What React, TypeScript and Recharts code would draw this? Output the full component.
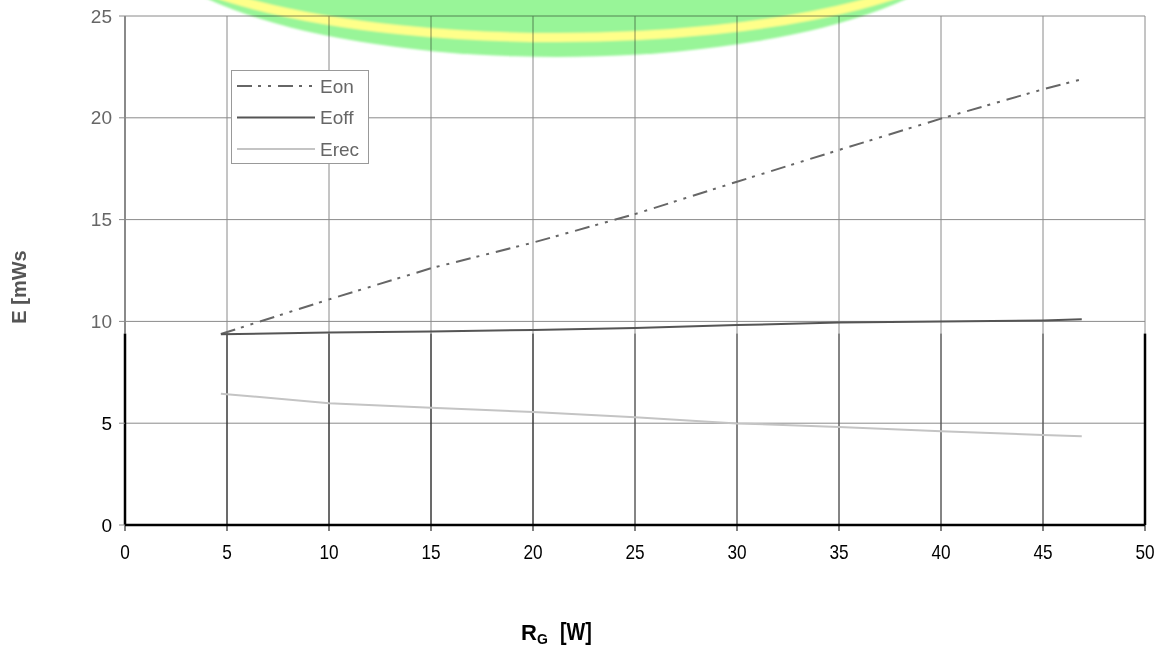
import React from 'react';
import { LineChart, Line, XAxis, YAxis, CartesianGrid, Legend, ReferenceLine, Label } from 'recharts';

// ---- data ----
const rgValues = [4.7, 10, 15, 20, 25, 30, 35, 40, 45, 46.9];
const eonValues = [9.38, 11.08, 12.61, 13.87, 15.27, 16.86, 18.42, 19.96, 21.4, 21.89];
const eoffValues = [9.37, 9.46, 9.51, 9.58, 9.68, 9.82, 9.94, 10.0, 10.05, 10.1];
const erecValues = [6.45, 5.98, 5.76, 5.55, 5.29, 4.99, 4.81, 4.6, 4.42, 4.36];

const xTicks = [0, 5, 10, 15, 20, 25, 30, 35, 40, 45, 50];
const yTicks = [0, 5, 10, 15, 20, 25];
const seriesNames = ['Eon', 'Eoff', 'Erec'];
const underlayTop = 9.4;
const yMax = 25;

const seriesStyle: Record<string, { color: string; dash?: string }> = {
  Eon: { color: '#666666', dash: '15 6 3 7 3 7' },
  Eoff: { color: '#555555' },
  Erec: { color: '#c4c4c4' },
};

const data = rgValues.map((rg, i) => ({
  rg,
  Eon: eonValues[i],
  Eoff: eoffValues[i],
  Erec: erecValues[i],
}));

const ARIAL = "Arial, 'Liberation Sans', sans-serif";

const YTick = (props: any) => {
  const { x, y, payload } = props;
  const dark = payload.value <= 5;
  return (
    <text x={x} y={y} dy="0.35em" textAnchor="end" fill={dark ? '#000' : '#666'} fontSize={19} fontFamily={ARIAL}>
      {payload.value}
    </text>
  );
};

const XTick = (props: any) => {
  const { x, y, payload } = props;
  return (
    <g transform={`translate(${x},${y}) scale(0.82,1)`}>
      <text x={0} y={0} dy="0.71em" textAnchor="middle" fill="#000" fontSize={21} fontFamily={ARIAL}>
        {payload.value}
      </text>
    </g>
  );
};

const LegendBox = () => (
  <div style={{ width: 138, height: 94, border: '1.5px solid #999', background: '#fff', boxSizing: 'border-box' }}>
    <svg width={135} height={91} style={{ display: 'block' }}>
      {seriesNames.map((name, i) => {
        const cy = 15 + i * 31.5;
        const st = seriesStyle[name];
        return (
          <g key={name}>
            <line x1={5} x2={83} y1={cy} y2={cy} stroke={st.color} strokeWidth={2} strokeDasharray={st.dash} />
            <text x={88} y={cy} dy="0.36em" fill="#666" fontSize={19} fontFamily={ARIAL}>
              {name}
            </text>
          </g>
        );
      })}
    </svg>
  </div>
);

const XTitle = (props: any) => {
  const vb = props.viewBox || { x: 125, y: 525, width: 1020, height: 40 };
  const x0 = vb.x + 396;
  const y0 = vb.y + 115;
  return (
    <g>
      <text x={x0} y={y0} fontFamily={ARIAL} fontWeight="bold" fill="#000">
        <tspan fontSize={22}>R</tspan>
        <tspan fontSize={14} dy={4}>G</tspan>
      </text>
      <g transform={`translate(${x0 + 39},${y0}) scale(0.9,1.05)`}>
        <text x={0} y={0} fontFamily={ARIAL} fontWeight="bold" fontSize={22} fill="#000">
          [W]
        </text>
      </g>
    </g>
  );
};

const YTitle = () => (
  <text x={19} y={287} transform="rotate(-90 19 287)" textAnchor="middle" dy="0.36em" fontFamily={ARIAL} fontWeight="bold" fontSize={20} fill="#555">
    E [mWs
  </text>
);

export default function App() {
  return (
    <div style={{ position: 'absolute', left: 0, top: 0, width: 1160, height: 646, background: '#fff' }}>
      <LineChart width={1160} height={646} data={data} margin={{ top: 16, right: 15, bottom: 81, left: 0 }}>
        <CartesianGrid stroke="#8a8a8a" strokeWidth={1} />
        <XAxis
          dataKey="rg"
          type="number"
          domain={[0, 50]}
          ticks={xTicks}
          interval={0}
          height={40}
          tickSize={6}
          tickMargin={13}
          axisLine={{ stroke: '#000', strokeWidth: 2.5 }}
          tickLine={{ stroke: '#000' }}
          tick={<XTick />}
        >
          <Label content={<XTitle />} />
        </XAxis>
        <YAxis
          type="number"
          domain={[0, yMax]}
          ticks={yTicks}
          interval={0}
          width={125}
          tickSize={6}
          tickMargin={7}
          axisLine={false}
          tickLine={{ stroke: '#8a8a8a' }}
          tick={<YTick />}
        >
          <Label content={<YTitle />} />
        </YAxis>
        <ReferenceLine segment={[{ x: 0, y: underlayTop }, { x: 0, y: yMax }]} stroke="#8a8a8a" strokeWidth={2} />
        {xTicks.map((v) => (
          <ReferenceLine
            key={'u' + v}
            segment={[{ x: v, y: 0 }, { x: v, y: underlayTop }]}
            stroke={v === 0 || v === 50 ? '#000' : v <= 20 ? '#111' : '#444'}
            strokeWidth={v === 0 || v === 50 ? 2.5 : 1}
          />
        ))}
        <Legend
          layout="vertical"
          align="center"
          verticalAlign="middle"
          content={<LegendBox />}
          wrapperStyle={{ position: 'absolute', left: 231, top: 70, width: 138, height: 94 }}
        />
        {seriesNames.map((name) => (
          <Line
            key={name}
            dataKey={name}
            type="linear"
            stroke={seriesStyle[name].color}
            strokeWidth={2}
            strokeDasharray={seriesStyle[name].dash}
            dot={false}
            activeDot={false}
            isAnimationActive={false}
          />
        ))}
      </LineChart>
      <svg
        width={1160}
        height={120}
        style={{ position: 'absolute', left: 0, top: 0, pointerEvents: 'none', mixBlendMode: 'multiply' }}
      >
        <defs>
          <filter id="soft" x="-10%" y="-50%" width="120%" height="200%">
            <feGaussianBlur stdDeviation="1.2" />
          </filter>
        </defs>
        <g filter="url(#soft)">
          <ellipse cx={557} cy={-73.4} rx={420} ry={130.4} fill="#98f598" />
          <ellipse cx={557} cy={-73.4} rx={427} ry={111} fill="none" stroke="#ffff8a" strokeWidth={9} />
        </g>
      </svg>
    </div>
  );
}
